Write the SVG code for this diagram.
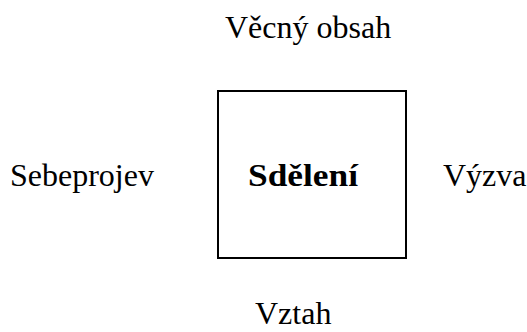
<svg xmlns="http://www.w3.org/2000/svg" width="527" height="332" viewBox="0 0 527 332">
<style>
.t{font-family:"Liberation Serif","Times New Roman",serif;font-size:32px;fill:#000}
.b{font-weight:bold}
.box{fill:#fff;stroke:#000;stroke-width:2}
</style>
<rect width="527" height="332" fill="#fff"/>
<g id="center">
<rect class="box" x="218" y="91" width="188" height="167"/>
<text class="t b" x="248" y="186" textLength="110" lengthAdjust="spacingAndGlyphs">Sdělení</text>
</g>
<g id="top"><text class="t" x="225" y="38">Věcný obsah</text></g>
<g id="left"><text class="t" x="10" y="186">Sebeprojev</text></g>
<g id="right"><text class="t" x="443" y="186">Výzva</text></g>
<g id="bottom"><text class="t" x="255" y="324">Vztah</text></g>
<g id="connectors"></g>
</svg>
